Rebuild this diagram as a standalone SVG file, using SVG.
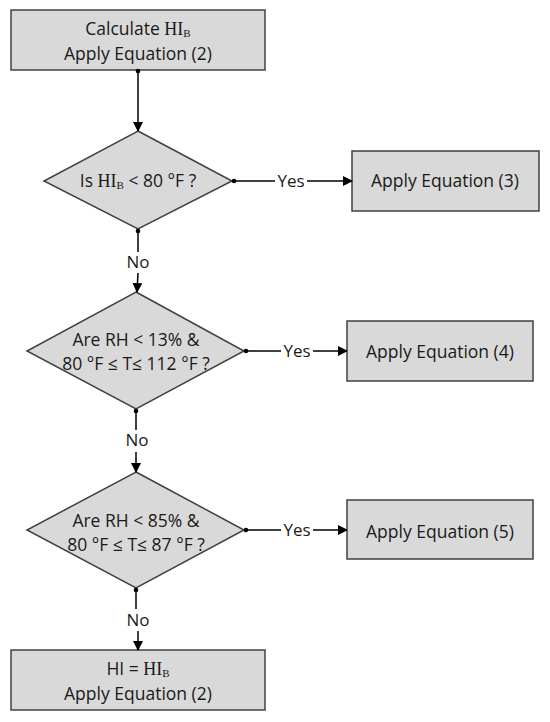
<svg xmlns="http://www.w3.org/2000/svg" width="550" height="722" viewBox="0 0 550 722">
<style>
.box{fill:#d9d9d9;stroke:#404040;stroke-width:1.5}
.t{font-family:"Open Sans","Liberation Sans",sans-serif;font-size:17.5px;fill:#1a1a1a;text-anchor:middle}
.m{font-family:"Liberation Serif","DejaVu Serif",serif;font-size:18px}
.s{font-family:"Liberation Serif","DejaVu Serif",serif;font-size:11px}
.c{stroke:#000;stroke-width:1.5;fill:none}
.lbl{font-family:"Open Sans","Liberation Sans",sans-serif;font-size:17px;fill:#1a1a1a;text-anchor:middle}
</style>
<defs>
<marker id="ah" markerWidth="10" markerHeight="10" refX="9" refY="5" orient="auto" markerUnits="userSpaceOnUse">
<path d="M0,0 L10,5 L0,10 Z" fill="#000"/>
</marker>
<marker id="dot" markerWidth="6" markerHeight="6" refX="3" refY="3" markerUnits="userSpaceOnUse">
<circle cx="3" cy="3" r="2.3" fill="#000"/>
</marker>
</defs>
<rect width="550" height="722" fill="#fff"/>
<g id="start">
<rect class="box" x="11" y="10" width="254" height="60"/>
<text class="t" x="138" y="35">Calculate <tspan class="m">HI</tspan><tspan class="s" dy="2">B</tspan></text>
<text class="t" x="138" y="60">Apply Equation (2)</text>
</g>
<g id="d1">
<polygon class="box" points="138,131 232,181 138,229 44,181"/>
<text class="t" x="138" y="187">Is <tspan class="m">HI</tspan><tspan class="s" dy="2">B</tspan><tspan dy="-2"> &lt; 80 °F ?</tspan></text>
</g>
<g id="eq3">
<rect class="box" x="352" y="151" width="187" height="60"/>
<text class="t" x="445" y="187">Apply Equation (3)</text>
</g>
<g id="d2">
<polygon class="box" points="136,292 244,351 136,409 27,351"/>
<text class="t" x="136" y="346">Are RH &lt; 13% &amp;</text>
<text class="t" x="136" y="370">80 °F ≤ T≤ 112 °F ?</text>
</g>
<g id="eq4">
<rect class="box" x="347" y="321" width="186" height="60"/>
<text class="t" x="440" y="358">Apply Equation (4)</text>
</g>
<g id="d3">
<polygon class="box" points="136,472 244,530 136,588 27,530"/>
<text class="t" x="136" y="527">Are RH &lt; 85% &amp;</text>
<text class="t" x="136" y="551">80 °F ≤ T≤ 87 °F ?</text>
</g>
<g id="eq5">
<rect class="box" x="347" y="500" width="186" height="59"/>
<text class="t" x="440" y="538">Apply Equation (5)</text>
</g>
<g id="end">
<rect class="box" x="11" y="650" width="254" height="60"/>
<text class="t" x="138" y="675">HI = <tspan class="m">HI</tspan><tspan class="s" dy="2">B</tspan></text>
<text class="t" x="138" y="700">Apply Equation (2)</text>
</g>
<g id="connectors">
<line class="c" x1="138" y1="71" x2="138" y2="131" marker-start="url(#dot)" marker-end="url(#ah)"/>
<line class="c" x1="234" y1="181" x2="275" y2="181" marker-start="url(#dot)"/>
<text class="lbl" x="291" y="187">Yes</text>
<line class="c" x1="307" y1="181" x2="352" y2="181" marker-end="url(#ah)"/>
<line class="c" x1="138" y1="231" x2="138" y2="252" marker-start="url(#dot)"/>
<text class="lbl" x="138" y="268">No</text>
<line class="c" x1="138" y1="273" x2="137" y2="292" marker-end="url(#ah)"/>
<line class="c" x1="246" y1="351" x2="281" y2="351" marker-start="url(#dot)"/>
<text class="lbl" x="297" y="357">Yes</text>
<line class="c" x1="313" y1="351" x2="347" y2="351" marker-end="url(#ah)"/>
<line class="c" x1="136" y1="411" x2="136" y2="430" marker-start="url(#dot)"/>
<text class="lbl" x="137" y="446">No</text>
<line class="c" x1="136" y1="452" x2="136" y2="472" marker-end="url(#ah)"/>
<line class="c" x1="246" y1="530" x2="281" y2="530" marker-start="url(#dot)"/>
<text class="lbl" x="297" y="536">Yes</text>
<line class="c" x1="313" y1="530" x2="347" y2="530" marker-end="url(#ah)"/>
<line class="c" x1="136" y1="590" x2="136" y2="609" marker-start="url(#dot)"/>
<text class="lbl" x="138" y="626">No</text>
<line class="c" x1="138" y1="631" x2="138" y2="650" marker-end="url(#ah)"/>
</g>
</svg>
